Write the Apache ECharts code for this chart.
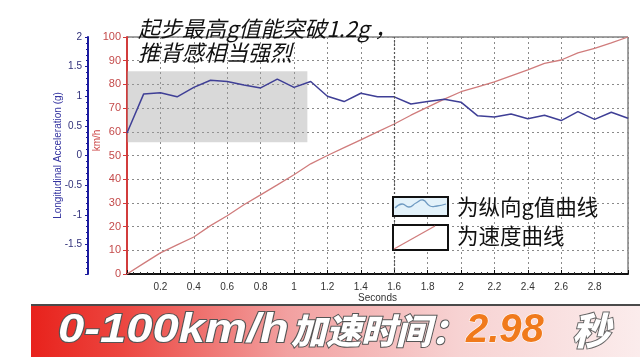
<!DOCTYPE html>
<html>
<head>
<meta charset="utf-8">
<script src="https://cdn.jsdelivr.net/npm/echarts@6/dist/echarts.min.js"></script>
<style>
html,body{margin:0;padding:0;background:#fff;}
#chart{width:640px;height:357px;}
</style>
</head>
<body>
<div id="chart"></div>
<script>
// ---- data ----
const timeS = [0,0.1,0.2,0.3,0.4,0.5,0.6,0.7,0.8,0.9,1.0,1.1,1.2,1.3,1.4,1.5,1.6,1.7,1.8,1.9,2.0,2.1,2.2,2.3,2.4,2.5,2.6,2.7,2.8,2.9,3.0];
const gValues = [0.38,1.04,1.06,0.99,1.15,1.27,1.25,1.19,1.14,1.29,1.15,1.25,1.00,0.91,1.05,0.99,0.99,0.87,0.91,0.95,0.90,0.67,0.65,0.70,0.62,0.68,0.59,0.74,0.61,0.73,0.63];
const speedKmh = [0,4.5,8.9,12.3,15.6,20.4,24.6,29.2,33.4,37.6,41.9,46.5,50.0,53.3,56.6,60.0,63.3,67.0,70.4,73.8,76.9,79.0,81.1,83.6,86.1,88.9,90.3,93.3,95.2,97.5,100];
const highlightTime = [0, 1.08];
const highlightSpeed = [55.6, 85.5];
const markerTime = 1.6;
const annotation = '起步最高g值能突破1.2g ，\n推背感相当强烈';
const legendNames = ['为纵向g值曲线', '为速度曲线'];
const bannerParts = ['0-100km/h', '加速时间：', '2.98', '秒'];
const xAxisName = 'Seconds';
const speedAxisName = 'km/h';
const gAxisName = 'Longitudinal Acceleration (g)';

const chart = echarts.init(document.getElementById('chart'), null, {renderer: 'canvas'});
const grid = {left: 127, right: 12, top: 37, bottom: 83};
const dotted = {color: '#8a8a8a', type: [2, 3], width: 1};
const latin = 'Liberation Sans';

const option = {
  animation: false,
  backgroundColor: '#ffffff',
  title: {
    text: annotation,
    left: 133, top: 12,
    textStyle: {fontFamily: 'Noto Sans CJK SC', fontSize: 22, fontStyle: 'italic', fontWeight: 'normal', color: '#111', lineHeight: 24}
  },
  grid: Object.assign({show: true, borderColor: '#444', borderWidth: 1, backgroundColor: 'transparent'}, grid),
  xAxis: {
    type: 'value', min: 0, max: 3, interval: 0.2,
    name: xAxisName, nameLocation: 'middle', nameGap: 19, nameMoveOverlap: false,
    nameTextStyle: {fontFamily: latin, fontSize: 10, color: '#333'},
    axisLine: {show: true, lineStyle: {color: '#111', width: 2}},
    axisTick: {show: true, inside: true, length: 4, lineStyle: {color: '#111'}},
    minorTick: {show: true, splitNumber: 5, length: 2, lineStyle: {color: '#333'}},
    axisLabel: {fontFamily: latin, fontSize: 10, color: '#333', margin: 8, showMinLabel: false, showMaxLabel: false},
    splitLine: {show: true, lineStyle: dotted}
  },
  yAxis: [
    {
      type: 'value', min: 0, max: 100, interval: 10, position: 'left', offset: 0,
      name: speedAxisName, nameLocation: 'middle', nameGap: 25, nameRotate: 90, nameMoveOverlap: false,
      nameTextStyle: {fontFamily: latin, fontSize: 10, color: '#c44', padding: [0, 0, 0, 30]},
      axisLine: {show: true, lineStyle: {color: '#d23c3c', width: 2}},
      axisTick: {show: true, length: 4, lineStyle: {color: '#d23c3c'}},
      axisLabel: {fontFamily: latin, fontSize: 11, color: '#c44a4a', margin: 6},
      splitLine: {show: true, lineStyle: dotted}
    },
    {
      type: 'value', min: -2, max: 2, interval: 0.5, position: 'left', offset: 39,
      name: gAxisName, nameLocation: 'middle', nameGap: 25, nameRotate: 90, nameMoveOverlap: false,
      nameTextStyle: {fontFamily: latin, fontSize: 10, color: '#3434a0'},
      axisLine: {show: true, lineStyle: {color: '#1b1b9e', width: 2}},
      axisTick: {show: true, length: 3, lineStyle: {color: '#1b1b9e'}},
      minorTick: {show: true, splitNumber: 5, length: 2, lineStyle: {color: '#1b1b9e'}},
      axisLabel: {fontFamily: latin, fontSize: 10, color: '#30307a', margin: 6, showMinLabel: false},
      splitLine: {show: false}
    }
  ],
  series: [
    {
      name: legendNames[1], type: 'line', yAxisIndex: 0,
      data: timeS.map((t, i) => [t, speedKmh[i]]),
      showSymbol: false, z: 2,
      lineStyle: {color: '#d07c7c', width: 1.3},
      markArea: {
        silent: true,
        itemStyle: {color: 'rgba(160,160,160,0.4)'},
        data: [[{xAxis: highlightTime[0], yAxis: highlightSpeed[0]}, {xAxis: highlightTime[1], yAxis: highlightSpeed[1]}]]
      }
    },
    {
      name: legendNames[0], type: 'line', yAxisIndex: 1,
      data: timeS.map((t, i) => [t, gValues[i]]),
      showSymbol: false, z: 3,
      lineStyle: {color: '#3f3f96', width: 1.5},
      markLine: {
        silent: true, symbol: 'none', label: {show: false},
        lineStyle: {color: '#555', type: [2, 2], width: 1.2},
        data: [{xAxis: markerTime}]
      }
    }
  ],
  graphic: [
    // legend box 1
    {type: 'rect', shape: {x: 393, y: 197, width: 55, height: 19}, style: {fill: '#e3f2fa', stroke: '#111', lineWidth: 2}, z: 10},
    {type: 'polyline', shape: {points: [[395,208],[402,204],[409,207],[416,203],[423,200],[430,206],[437,206],[446,204]], smooth: 0.5}, style: {stroke: '#6f9bc2', lineWidth: 1.3, fill: null}, z: 11},
    {type: 'text', left: 457, top: 196, style: {text: legendNames[0], font: '21.5px "Noto Sans CJK SC"', fill: '#111'}, z: 11},
    // legend box 2
    {type: 'rect', shape: {x: 393, y: 225, width: 55, height: 25}, style: {fill: '#ffffff', stroke: '#111', lineWidth: 2}, z: 10},
    {type: 'line', shape: {x1: 394, y1: 249, x2: 435, y2: 226}, style: {stroke: '#d07c7c', lineWidth: 1.3}, z: 11},
    {type: 'text', left: 457, top: 225, style: {text: legendNames[1], font: '21.5px "Noto Sans CJK SC"', fill: '#111'}, z: 11},
    // banner
    {type: 'rect', shape: {x: 31, y: 306, width: 609, height: 51}, z: 5,
      style: {fill: new echarts.graphic.LinearGradient(0, 0, 1, 0, [
        {offset: 0, color: '#e8221c'}, {offset: 0.15, color: '#ec4640'}, {offset: 0.42, color: '#f2a0a0'},
        {offset: 0.7, color: '#f7d2d2'}, {offset: 1, color: '#fbecec'}])}},
    {type: 'rect', shape: {x: 31, y: 304, width: 609, height: 2}, style: {fill: '#4a4a4a'}, z: 6},
    {type: 'text', x: 58, y: 331, scaleX: 1.18, z: 7,
      style: {text: bannerParts[0], font: 'italic 900 40px "Liberation Sans"', fill: '#fff', stroke: '#555', lineWidth: 2, verticalAlign: 'middle', shadowColor: 'rgba(0,0,0,0.4)', shadowBlur: 3}},
    {type: 'text', x: 291, y: 331, z: 7,
      style: {text: bannerParts[1], font: 'italic 900 35px "Noto Sans CJK SC"', fill: '#fff', stroke: '#555', lineWidth: 2, verticalAlign: 'middle', shadowColor: 'rgba(0,0,0,0.4)', shadowBlur: 3}},
    {type: 'text', x: 466, y: 331, z: 7,
      style: {text: bannerParts[2], font: 'italic 900 40px "Liberation Sans"', fill: '#f07a1c', stroke: '#fff', lineWidth: 1, verticalAlign: 'middle'}},
    {type: 'text', x: 572, y: 331, z: 7,
      style: {text: bannerParts[3], font: 'italic 900 38px "Noto Sans CJK SC"', fill: '#fff', stroke: '#666', lineWidth: 2, verticalAlign: 'middle', shadowColor: 'rgba(0,0,0,0.3)', shadowBlur: 3}}
  ]
};
chart.setOption(option);
</script>
</body>
</html>
